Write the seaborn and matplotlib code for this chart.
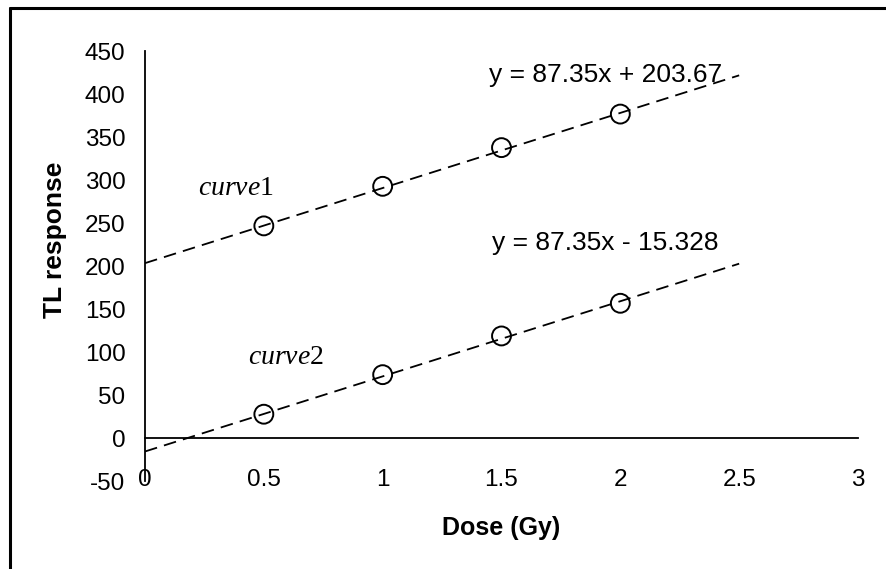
import matplotlib
matplotlib.use("Agg")
import matplotlib.pyplot as plt
import seaborn as sns
import pandas as pd
import numpy as np
from matplotlib.lines import Line2D

# ---- data ----
dose = [0.5, 1.0, 1.5, 2.0]
curve1 = [247, 293, 338, 377]
curve2 = [28, 74, 119, 157]
fit_slopes = [87.35, 87.35]
fit_intercepts = [203.67, -15.328]
fit_x_range = [0.0, 2.5]
equation_labels = ["y = 87.35x + 203.67", "y = 87.35x - 15.328"]
curve_labels = ["1", "2"]
x_ticks = [0, 0.5, 1, 1.5, 2, 2.5, 3]
x_tick_labels = ["0", "0.5", "1", "1.5", "2", "2.5", "3"]
y_ticks = [-50, 0, 50, 100, 150, 200, 250, 300, 350, 400, 450]

sns.set_style("white")
plt.rcParams["font.family"] = ["Liberation Sans", "DejaVu Sans"]
plt.rcParams["mathtext.fontset"] = "custom"
plt.rcParams["mathtext.it"] = "Liberation Serif:italic"
plt.rcParams["mathtext.rm"] = "Liberation Serif"
plt.rcParams["axes.unicode_minus"] = False
plt.rcParams["text.color"] = "black"
plt.rcParams["axes.labelcolor"] = "black"

W, H = 886, 569
fig = plt.figure(figsize=(W / 100, H / 100), dpi=100)
ax = fig.add_axes([145 / W, 1 - 481.3 / H, (858 - 145) / W, (481.3 - 51.3) / H])

pts = pd.DataFrame({
    "dose": dose * 2,
    "resp": curve1 + curve2,
    "curve": ["curve1"] * 4 + ["curve2"] * 4,
})
fits = pd.DataFrame({
    "dose": fit_x_range * 2,
    "resp": [fit_intercepts[0] + fit_slopes[0] * x for x in fit_x_range]
            + [fit_intercepts[1] + fit_slopes[1] * x for x in fit_x_range],
    "curve": ["curve1"] * 2 + ["curve2"] * 2,
})

sns.lineplot(data=fits, x="dose", y="resp", units="curve", estimator=None,
             color="black", lw=1.3, linestyle=(0, (7, 4)), ax=ax, legend=False)
sns.scatterplot(data=pts, x="dose", y="resp", marker="o", s=185,
                facecolor="none", edgecolor="black", linewidth=1.4, ax=ax,
                legend=False, zorder=3)

ax.set_xlim(0, 3)
ax.set_ylim(-50, 450)
ax.set_xticks(x_ticks)
ax.set_xticklabels(x_tick_labels)
ax.set_yticks(y_ticks)

for s in ["top", "right"]:
    ax.spines[s].set_visible(False)
ax.spines["bottom"].set_position(("data", 0))
for s in ["left", "bottom"]:
    ax.spines[s].set_color("black")
    ax.spines[s].set_linewidth(1.3)

ax.tick_params(axis="both", direction="out", length=6, width=1.3, color="black",
               labelsize=17.5, labelcolor="black")
ax.tick_params(axis="x", pad=16)
ax.tick_params(axis="y", pad=8)

ax.set_xlabel("Dose (Gy)", fontsize=18, fontweight="bold", va="center")
ax.xaxis.set_label_coords(0.5, (481.3 - 528) / 430)
ax.set_ylabel("TL response", fontsize=19, fontweight="bold", va="center")
ax.yaxis.set_label_coords((55 - 145) / 713, (481.3 - 240) / 430)

# equation labels
ax.text((606 - 145) / 713, (481.3 - 75) / 430, equation_labels[0], transform=ax.transAxes,
        ha="center", va="center", fontsize=19)
ax.text((605 - 145) / 713, (481.3 - 243) / 430, equation_labels[1], transform=ax.transAxes,
        ha="center", va="center", fontsize=19)

# curve labels
ax.text((236 - 145) / 713, (481.3 - 188) / 430, "$curve$" + curve_labels[0],
        transform=ax.transAxes, ha="center", va="center", fontsize=20,
        family="Liberation Serif")
ax.text((286 - 145) / 713, (481.3 - 357) / 430, "$curve$" + curve_labels[1],
        transform=ax.transAxes, ha="center", va="center", fontsize=20,
        family="Liberation Serif")

# chart border (Excel chart area frame, cropped at right and bottom)
fig.add_artist(Line2D([10 / W, 10 / W], [0, 1 - 8 / H], color="black", lw=2.2,
                      transform=fig.transFigure))
fig.add_artist(Line2D([10 / W, 1], [1 - 8 / H, 1 - 8 / H], color="black", lw=2.2,
                      transform=fig.transFigure))

fig.savefig("out.png", dpi=100)
